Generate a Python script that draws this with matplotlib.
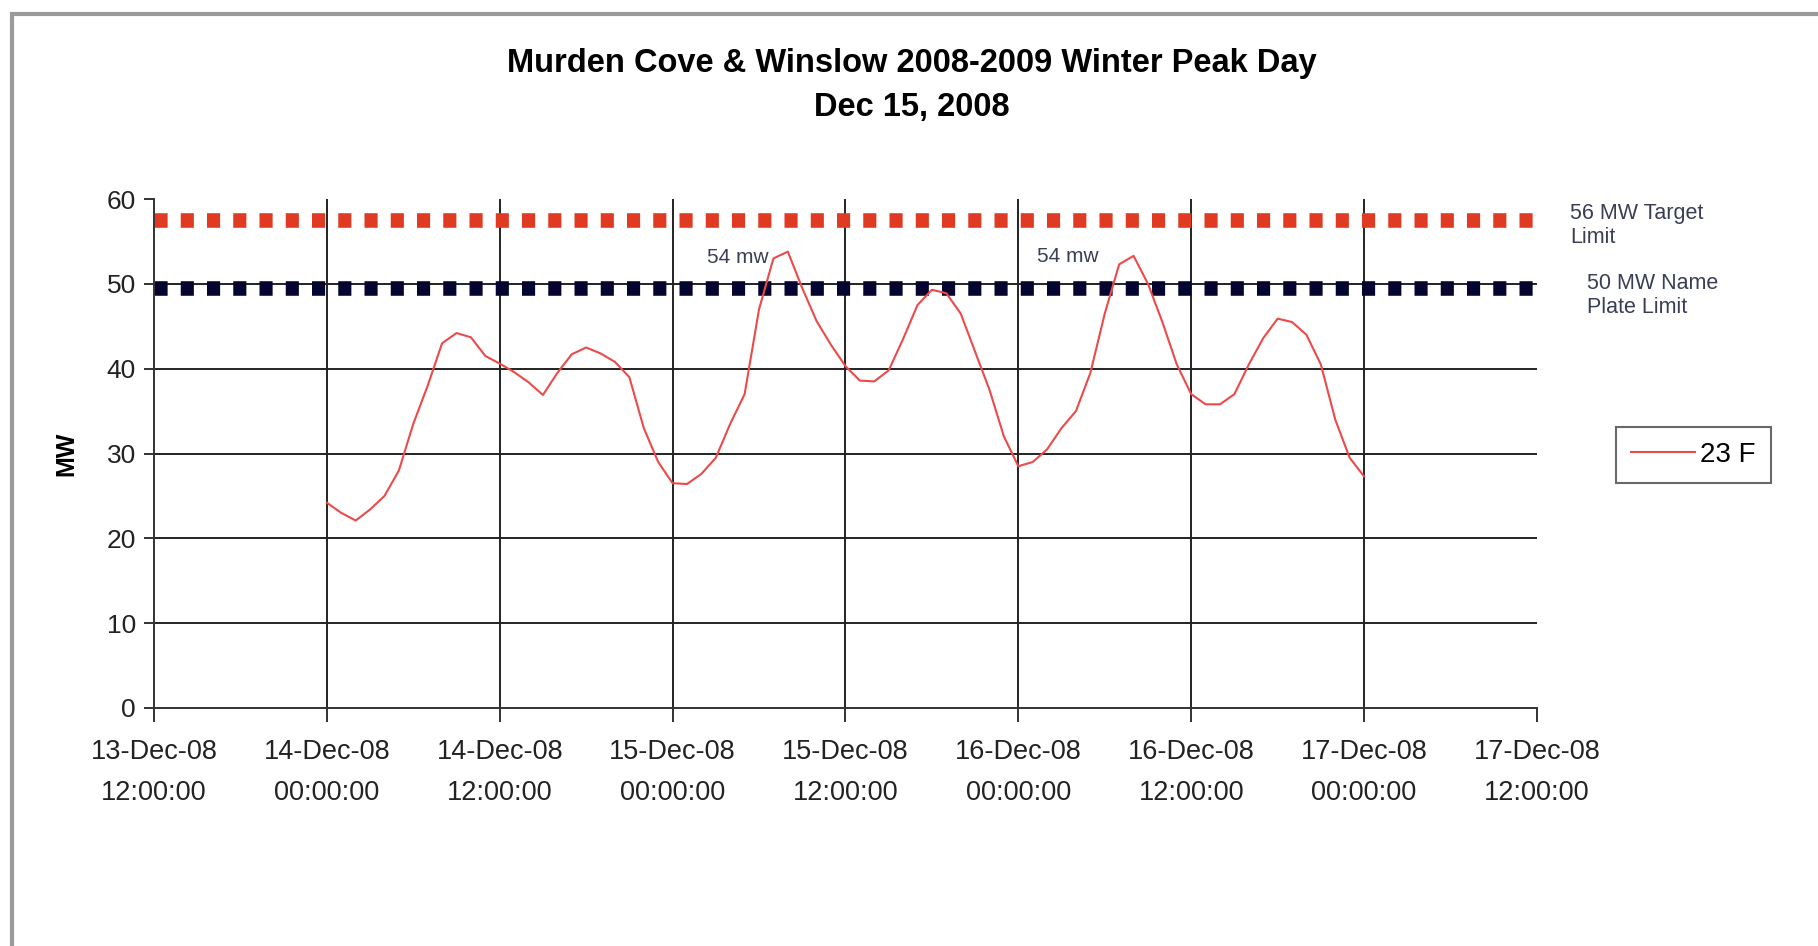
import numpy as np
import pandas as pd
import matplotlib
matplotlib.use("Agg")
import matplotlib.pyplot as plt
import matplotlib.dates as mdates
from matplotlib.patches import Rectangle

plt.rcParams['font.family'] = ['Liberation Sans', 'DejaVu Sans']

# hourly load (MW) from 14-Dec-08 00:00
load_mw = [24.2, 23.0, 22.1, 23.4, 25.0, 28.0, 33.5, 38.0, 43.0, 44.2,
           43.7, 41.5, 40.6, 39.6, 38.4, 36.9, 39.5, 41.7, 42.5, 41.8,
           40.8, 39.0, 33.0, 29.0, 26.5, 26.4, 27.6, 29.5, 33.5, 37.0,
           47.0, 53.0, 53.8, 49.5, 45.6, 42.8, 40.3, 38.6, 38.5, 39.8,
           43.5, 47.5, 49.3, 48.9, 46.5, 42.0, 37.5, 32.0, 28.5, 29.0,
           30.5, 33.0, 35.0, 39.5, 46.5, 52.3, 53.3, 50.0, 45.5, 40.5,
           37.0, 35.8, 35.8, 37.0, 40.5, 43.6, 45.9, 45.5, 44.0, 40.5,
           34.0, 29.5, 27.3]
times = pd.date_range("2008-12-14 00:00", periods=len(load_mw), freq="h")

target_limit = 57.5      # "56 MW Target Limit" line
nameplate_limit = 49.5   # "50 MW Name Plate Limit" line
peak_labels = ["54 mw", "54 mw"]
peak_times = pd.to_datetime(["2008-12-15 04:30", "2008-12-16 03:25"])
peak_y = [53.1, 53.2]

x_start = pd.Timestamp("2008-12-13 12:00")
x_end = pd.Timestamp("2008-12-17 12:00")
x_ticks = pd.date_range(x_start, x_end, freq="12h")
y_ticks = [0, 10, 20, 30, 40, 50, 60]

fig = plt.figure(figsize=(18.18, 9.46), dpi=100)
ax = fig.add_axes([0.0847, 0.2516, 0.7607, 0.538])

ax.set_xlim(x_start, x_end)
ax.set_ylim(0, 60)
ax.set_xticks(x_ticks)
ax.set_yticks(y_ticks)
ax.xaxis.set_major_formatter(mdates.DateFormatter('%d-%b-%y\n%H:%M:%S'))

# grid: horizontal 10..50, vertical at interior ticks
for y in y_ticks[1:-1]:
    ax.axhline(y, color="#222222", lw=1.4, zorder=1)
for t in x_ticks[1:-1]:
    ax.axvline(t, color="#222222", lw=1.4, zorder=1)

ax.axhline(target_limit, color="#e03a22", lw=10.5, dashes=(0.9, 0.9), zorder=2)
ax.axhline(nameplate_limit, color="#050530", lw=10.5, dashes=(0.9, 0.9), zorder=2)

ax.plot(times, load_mw, color="#ec4a4a", lw=1.5, label="23 F", zorder=3)

for lbl, t, y in zip(peak_labels, peak_times, peak_y):
    ax.text(t, y, lbl, ha="center", va="center", fontsize=15, color="#3a3f55")

for s in ["top", "right"]:
    ax.spines[s].set_visible(False)
for s in ["left", "bottom"]:
    ax.spines[s].set_color("#333333")
    ax.spines[s].set_linewidth(1.4)

ax.tick_params(axis="x", direction="out", length=10, width=1.4, colors="#333333",
               labelsize=19.5, pad=12, labelcolor="#222222")
ax.tick_params(axis="y", direction="out", length=7, width=1.4, colors="#333333",
               labelsize=19, pad=6, labelcolor="#222222")
for lab in ax.get_xticklabels():
    lab.set_linespacing(1.75)

ax.set_ylabel("MW", fontsize=18, fontweight="bold", labelpad=20)

fig.text(0.5017, 0.933, "Murden Cove & Winslow 2008-2009 Winter Peak Day",
         ha="center", va="center", fontsize=23.5, fontweight="bold")
fig.text(0.5017, 0.886, "Dec 15, 2008", ha="center", va="center",
         fontsize=23.5, fontweight="bold")

fig.text(1570 / 1818, 1 - 203 / 946, "56 MW Target\nLimit", ha="left", va="top",
         fontsize=15.5, color="#3a3f55", linespacing=1.2)
fig.text(1587 / 1818, 1 - 273 / 946, "50 MW Name\nPlate Limit", ha="left", va="top",
         fontsize=15.5, color="#3a3f55", linespacing=1.2)

leg = fig.legend(loc="center", bbox_to_anchor=(0.9315, 0.519), fontsize=20,
                 frameon=True, fancybox=False, handlelength=2.3, borderpad=0.55,
                 handletextpad=0.2, borderaxespad=0)
leg.get_frame().set_edgecolor("#444444")
leg.get_frame().set_linewidth(1.5)

fig.add_artist(Rectangle((12 / 1818, -0.1), 1.2, 1.1 - 14 / 946, transform=fig.transFigure,
                         fill=False, edgecolor="#9a9a9a", lw=3))

fig.savefig("out.png", dpi=100)
